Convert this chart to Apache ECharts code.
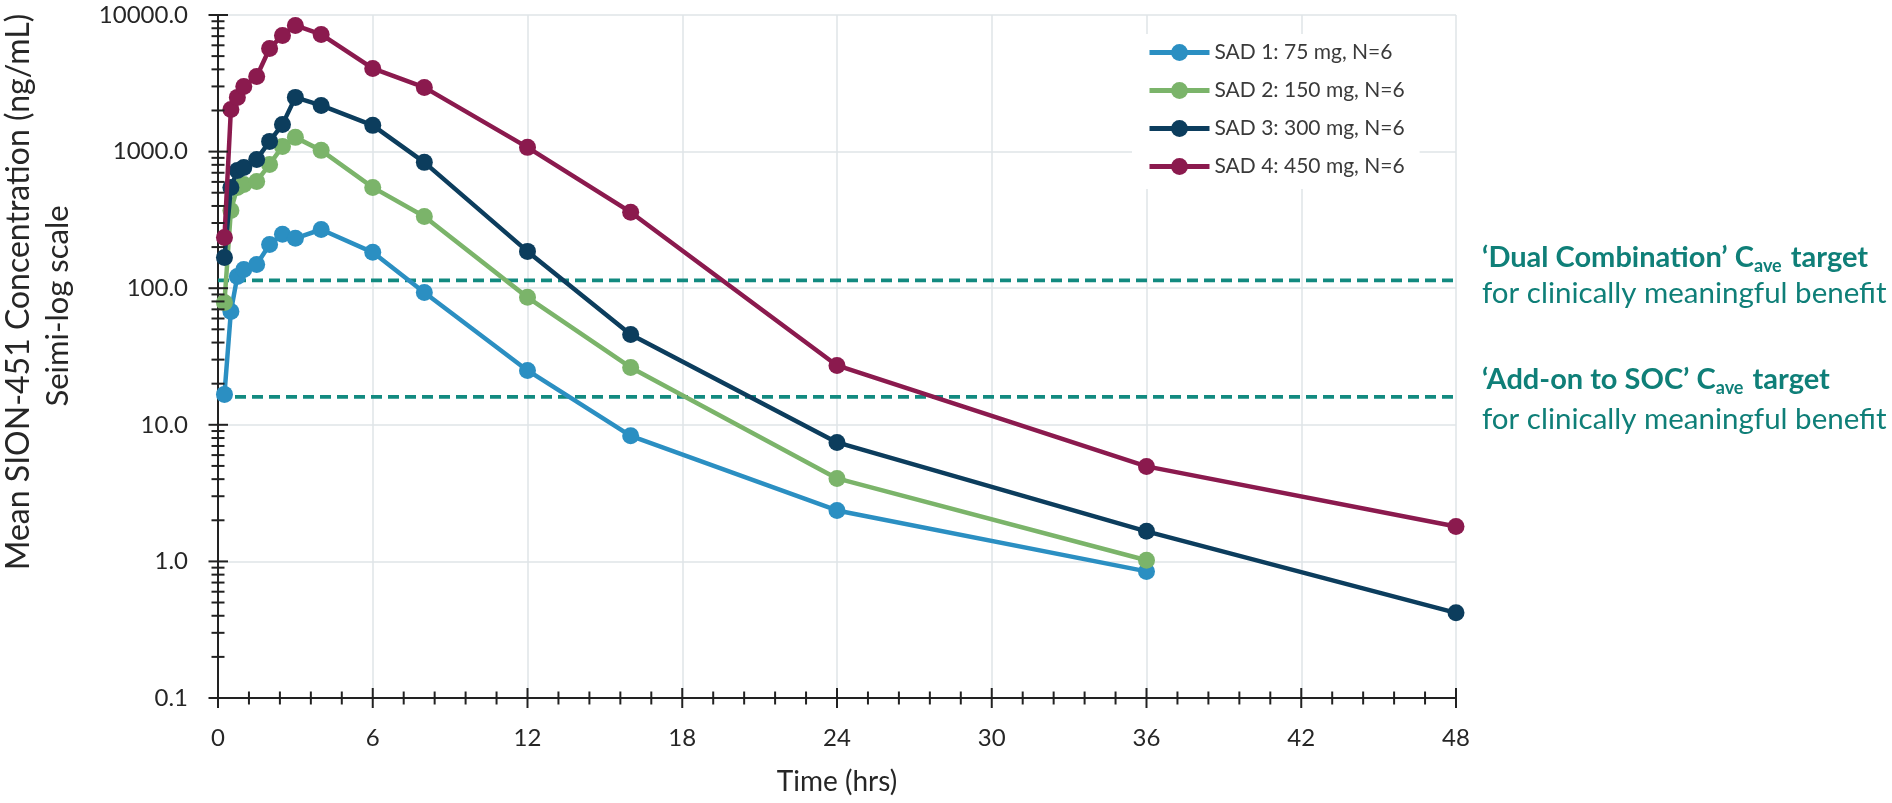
<!DOCTYPE html>
<html><head><meta charset="utf-8">
<script src="https://cdn.jsdelivr.net/npm/echarts@6/dist/echarts.min.js"></script>
<style>html,body{margin:0;padding:0;background:#fff}#c{width:1892px;height:803px}</style>
</head><body><div id="c"></div>
<script>
// ---- data ----
const timesHrs = [0.25, 0.5, 0.75, 1, 1.5, 2, 2.5, 3, 4, 6, 8, 12, 16, 24, 36, 48];
const sad1_75mg  = [16.7, 67.6, 122, 137, 149, 209, 248, 232, 269, 183, 93, 25, 8.3, 2.36, 0.845, null];
const sad2_150mg = [78.7, 371, 547, 575, 605, 806, 1092, 1271, 1021, 547, 335, 85.7, 26.3, 4.05, 1.02, null];
const sad3_300mg = [168, 547, 728, 766, 877, 1188, 1582, 2494, 2178, 1556, 834, 186, 45.9, 7.43, 1.66, 0.42];
const sad4_450mg = [235, 2037, 2494, 3000, 3550, 5690, 7090, 8390, 7210, 4063, 2950, 1074, 360, 27.2, 4.96, 1.80];
const seriesNames = ['SAD 1: 75 mg, N=6', 'SAD 2: 150 mg, N=6', 'SAD 3: 300 mg, N=6', 'SAD 4: 450 mg, N=6'];
const targetDual = 114;
const targetAddOn = 16;
const targetSpan = [0, 48.4];
const xTickValues = [0, 6, 12, 18, 24, 30, 36, 42, 48];
const yTickValues = [0.1, 1, 10, 100, 1000, 10000];

// ---- styles ----
const colors = ['#2b8fc2', '#7bb46a', '#0c3d5d', '#8b1a4e'];
const teal = '#0f7f78';
const dashTeal = '#128a80';
const axisColor = '#222';
const gridColor = '#dfe4e7';
const FONT = 'Lato';

function zip(xs, ys) { const out = []; xs.forEach((x, i) => { if (ys[i] != null) out.push([x, ys[i]]); }); return out; }
const allSeries = [sad1_75mg, sad2_150mg, sad3_300mg, sad4_450mg];

// tick marks (axis decoration) derived from the tick lists
const yTickData = [];
yTickValues.forEach((d, i) => {
  yTickData.push([0, d, 1]);
  if (i < yTickValues.length - 1) for (let m = 2; m <= 9; m++) yTickData.push([0, d * m, 0]);
});
const xTickData = [];
xTickValues.forEach((t, i) => {
  xTickData.push([t, 0.1, 1]);
  if (i < xTickValues.length - 1) for (let k = 1; k <= 4; k++) xTickData.push([t + k * (xTickValues[1] - xTickValues[0]) / 5, 0.1, 0]);
});

const chart = echarts.init(document.getElementById('c'), null, { renderer: 'canvas' });

const series = [];
[targetDual, targetAddOn].forEach((v) => {
  series.push({
    type: 'line', silent: true, clip: false, symbol: 'none', z: 1,
    data: [[targetSpan[0], v], [targetSpan[1], v]],
    lineStyle: { color: dashTeal, width: 3.8, type: [11, 6] }
  });
});
allSeries.forEach((vals, i) => {
  series.push({
    name: seriesNames[i], type: 'line', z: 3 + i,
    data: zip(timesHrs, vals),
    symbol: 'circle', symbolSize: 17,
    itemStyle: { color: colors[i] },
    lineStyle: { color: colors[i], width: 4.5 },
    emphasis: { disabled: true }
  });
});
series.push({
  type: 'custom', silent: true, z: 10, clip: false,
  data: yTickData,
  renderItem: (params, api) => {
    const c = api.coord([api.value(0), api.value(1)]);
    const major = api.value(2) === 1;
    const l = major ? 9.5 : 6.5;
    return { type: 'line', shape: { x1: c[0] - l, y1: c[1], x2: c[0] + (major ? 10 : 6.5), y2: c[1] }, style: { stroke: axisColor, lineWidth: 2 } };
  }
});
series.push({
  type: 'custom', silent: true, z: 10, clip: false,
  data: xTickData,
  renderItem: (params, api) => {
    const c = api.coord([api.value(0), api.value(1)]);
    const major = api.value(2) === 1;
    const l = major ? 10 : 6.5;
    return { type: 'line', shape: { x1: c[0], y1: c[1] - l, x2: c[0], y2: c[1] + l }, style: { stroke: axisColor, lineWidth: 2 } };
  }
});

const subRich = {
  b: { fontFamily: FONT, fontSize: 29, fontWeight: 'bold', fill: teal, lineHeight: 34 },
  s: { fontFamily: FONT, fontSize: 18, fontWeight: 'bold', fill: teal, verticalAlign: 'bottom', lineHeight: 34, padding: [0, 2, 0, 0] }
};

const option = {
  animation: false,
  backgroundColor: '#fff',
  textStyle: { fontFamily: FONT },
  grid: { left: 218, right: 436, top: 15, bottom: 105, containLabel: false },
  xAxis: {
    type: 'value', min: 0, max: 48, interval: 6,
    name: 'Time (hrs)', nameLocation: 'middle', nameGap: 70,
    nameTextStyle: { fontFamily: FONT, fontSize: 28, color: '#262626' },
    axisLine: { show: true, onZero: false, lineStyle: { color: axisColor, width: 2 } },
    axisTick: { show: false },
    axisLabel: { fontFamily: FONT, fontSize: 24, color: '#262626', margin: 28 },
    splitLine: { show: true, lineStyle: { color: gridColor, width: 1.5 } }
  },
  yAxis: {
    type: 'log', logBase: 10, min: 0.1, max: 10000,
    axisLine: { show: true, lineStyle: { color: axisColor, width: 2 } },
    axisTick: { show: false },
    axisLabel: { fontFamily: FONT, fontSize: 24, color: '#262626', margin: 30,
      formatter: (v) => Number(v).toFixed(1) },
    splitLine: { show: true, lineStyle: { color: gridColor, width: 1.5 } }
  },
  legend: {
    data: seriesNames, orient: 'vertical', left: 1132, top: 34,
    padding: [8, 15, 12, 15], backgroundColor: '#fff',
    itemWidth: 60, itemHeight: 21, itemGap: 17,
    lineStyle: { width: 5 },
    textStyle: { fontFamily: FONT, fontSize: 21, color: '#3a3a3a' },
    selectedMode: false
  },
  graphic: [
    { type: 'text', x: 19, y: 292, rotation: Math.PI / 2,
      style: { text: 'Mean SION-451 Concentration (ng/mL)', fontFamily: FONT, fontSize: 32, fill: '#262626', align: 'center', verticalAlign: 'middle' } },
    { type: 'text', x: 58, y: 306, rotation: Math.PI / 2,
      style: { text: 'Seimi-log scale', fontFamily: FONT, fontSize: 31, fill: '#262626', align: 'center', verticalAlign: 'middle' } },
    { type: 'text', x: 1482, y: 258,
      style: { text: '{b|‘Dual Combination’ C}{s|ave}{b| target}', verticalAlign: 'middle', fill: teal, rich: subRich } },
    { type: 'text', x: 1482, y: 293,
      style: { text: 'for clinically meaningful benefit', fontFamily: FONT, fontSize: 29.5, fill: teal, verticalAlign: 'middle' } },
    { type: 'text', x: 1482, y: 380,
      style: { text: '{b|‘Add-on to SOC’ C}{s|ave}{b| target}', verticalAlign: 'middle', fill: teal, rich: subRich } },
    { type: 'text', x: 1482, y: 419,
      style: { text: 'for clinically meaningful benefit', fontFamily: FONT, fontSize: 29.5, fill: teal, verticalAlign: 'middle' } }
  ],
  series: series
};
chart.setOption(option);
</script></body></html>
